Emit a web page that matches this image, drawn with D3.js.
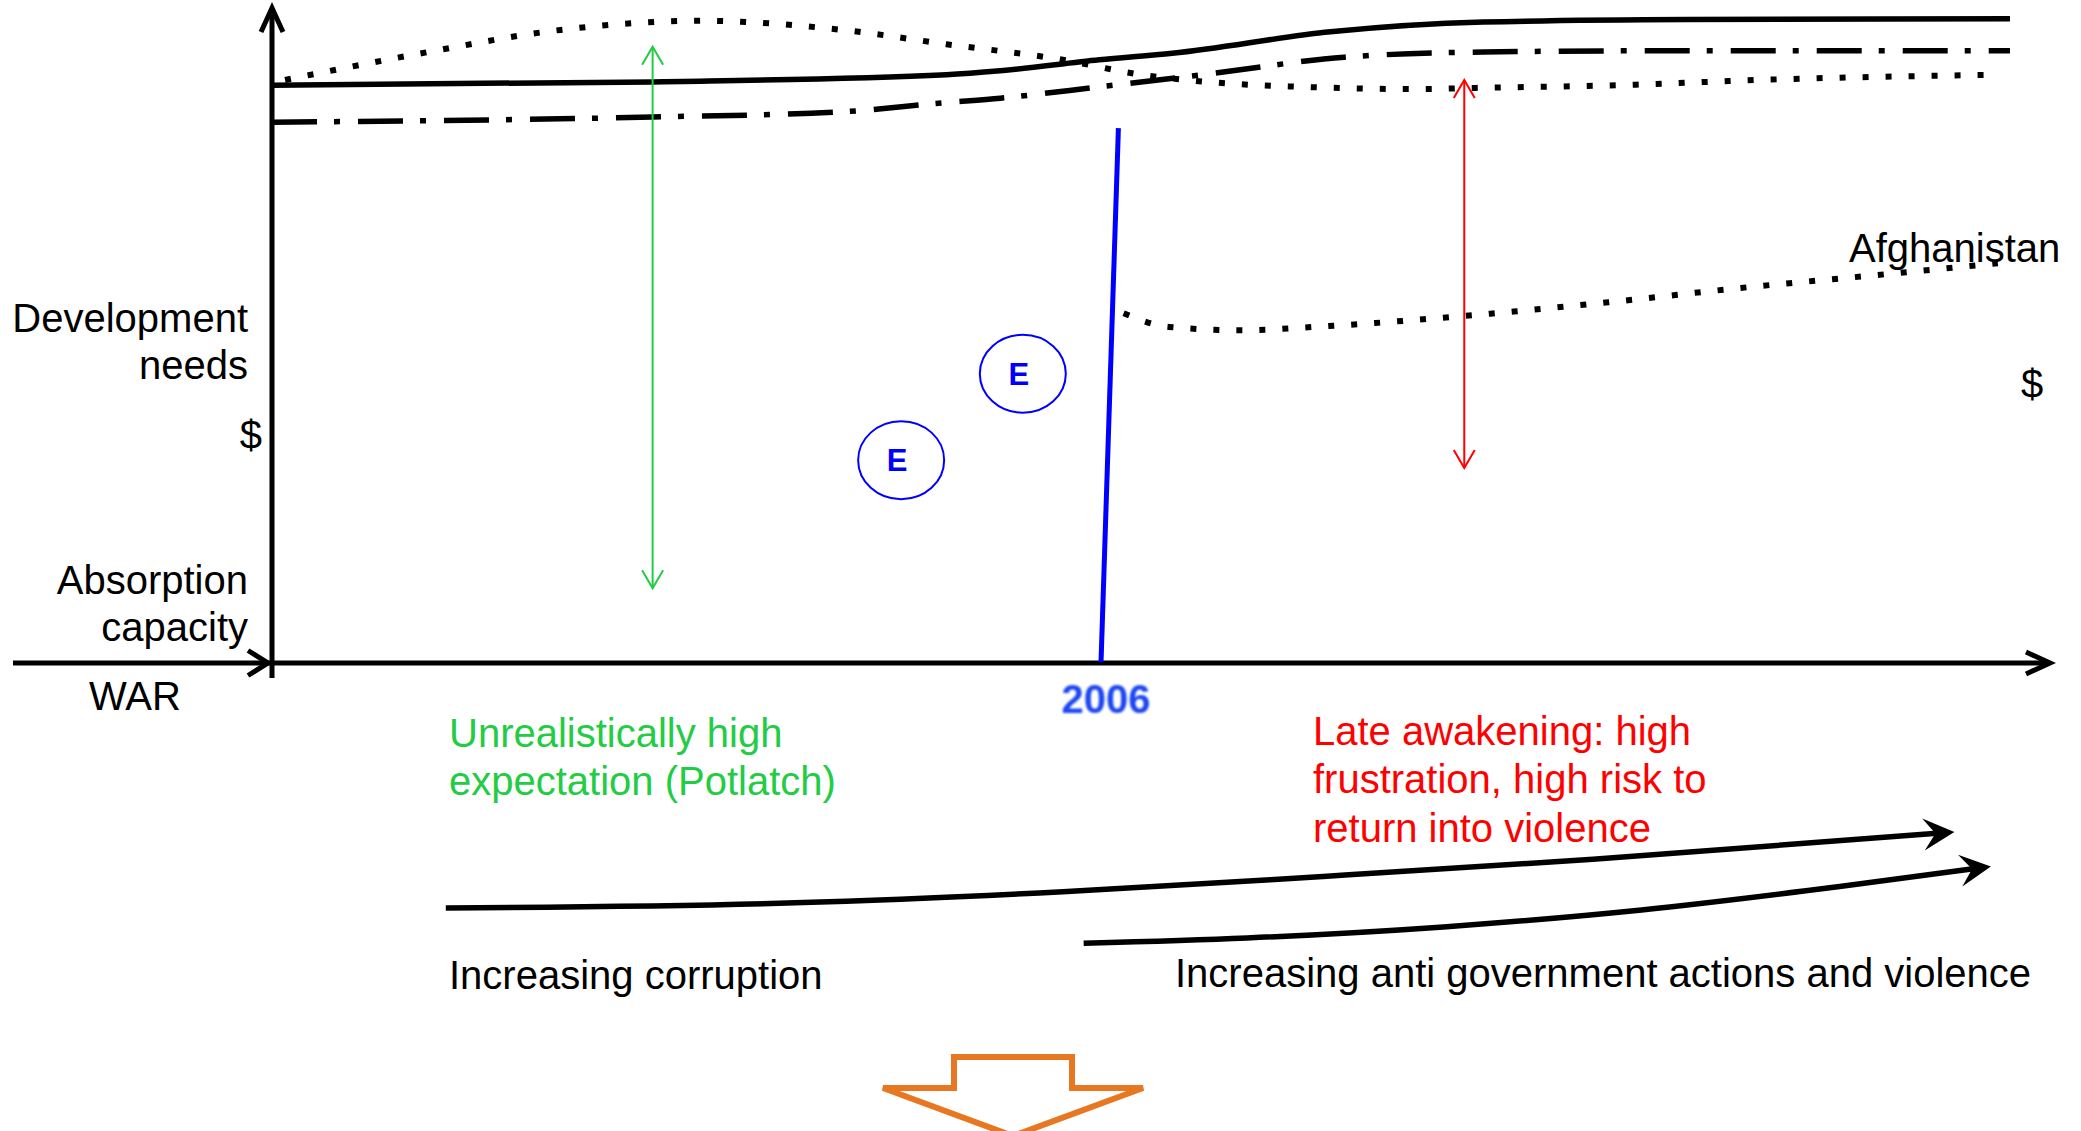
<!DOCTYPE html>
<html>
<head>
<meta charset="utf-8">
<script src="https://cdn.jsdelivr.net/npm/d3@7"></script>
<style>
  body { margin: 0; background: #fff; }
  text { font-family: "Liberation Sans", Arial, sans-serif; }
</style>
</head>
<body>
<div id="chart"></div>
<script>
// time runs 0..100 along the x axis, money 0..100 up the y axis
var needsX = [0, 21.9, 38.8, 41.9, 47.6, 51.8, 60.9, 69.7, 81.5, 100];
var needsY = [88.9, 89.4, 90.5, 91.1, 92.8, 93.8, 97.1, 98.6, 99.0, 99.1];

var capacityX = [0, 21.9, 32.8, 38.7, 41.9, 47.5, 53.8, 61.7, 69.7, 81.5, 100];
var capacityY = [83.2, 84.0, 84.8, 86.2, 86.9, 88.6, 90.6, 93.2, 94.0, 94.2, 94.2];

var expectX = [0.75, 8.6, 16.6, 24.7, 32.8, 38.8, 45.5, 49.8, 53.8, 59.7, 65.7, 69.7, 77.6, 85.5, 99.0];
var expectY = [89.7, 93.8, 97.4, 98.8, 97.4, 95.2, 92.8, 90.6, 89.4, 88.6, 88.3, 88.5, 88.9, 89.7, 90.5];

var afghanX = [49.0, 51.6, 55.8, 59.9, 68.6, 76.9, 84.5, 92.4, 99.3];
var afghanY = [53.8, 51.7, 51.2, 51.7, 53.4, 55.5, 57.7, 59.7, 61.5];

var corruptionX = [10.0, 30.1, 45.5, 60.7, 76.0, 96.8];
var corruptionY = [-37.7, -36.9, -35.2, -32.8, -30.2, -26.0];

var violenceX = [46.7, 56.1, 67.4, 78.8, 90.2, 98.9];
var violenceY = [-43.1, -42.3, -40.6, -38.0, -34.4, -31.3];

var yearX = [47.7, 48.7];
var yearY = [0.15, 82.3];

var gapGreen = {x: 21.9, y: [94.8, 11.5]};
var gapRed = {x: 68.6, y: [89.7, 30]};

var eX = [36.2, 43.2];
var eY = [31.2, 44.5];

var width = 2081, height = 1131;

var x = d3.scaleLinear().domain([0, 100]).range([272, 2010]);
var y = d3.scaleLinear().domain([0, 100]).range([663, 13]);

var svg = d3.select("#chart").append("svg")
  .attr("width", width)
  .attr("height", height);

function zip(xs, ys) {
  return xs.map(function(d, i) { return [d, ys[i]]; });
}

var line = d3.line()
  .x(function(d) { return x(d[0]); })
  .y(function(d) { return y(d[1]); })
  .curve(d3.curveMonotoneX);

// open V arrow head, tip at (tx,ty) pointing along angle a
function vHead(tx, ty, a, len, half, color, w) {
  var bx = tx - len * Math.cos(a), by = ty - len * Math.sin(a);
  var px = -Math.sin(a) * half, py = Math.cos(a) * half;
  svg.append("path")
    .attr("d", "M" + (bx + px) + "," + (by + py) + "L" + tx + "," + ty + "L" + (bx - px) + "," + (by - py))
    .attr("fill", "none")
    .attr("stroke", color)
    .attr("stroke-width", w)
    .attr("stroke-linejoin", "miter");
}

// filled stealth head
function stealthHead(tx, ty, a, len, half, notch) {
  var c = Math.cos(a), s = Math.sin(a);
  function pt(u, v) { return (tx + u * c - v * s) + "," + (ty + u * s + v * c); }
  svg.append("path")
    .attr("d", "M" + pt(0, 0) + "L" + pt(-len, -half) + "L" + pt(-len + notch, 0) + "L" + pt(-len, half) + "Z")
    .attr("fill", "#000");
}

// axes
svg.append("line")
  .attr("x1", 272).attr("x2", 272)
  .attr("y1", 678).attr("y2", 8)
  .attr("stroke", "#000").attr("stroke-width", 5);
vHead(272, 8, -Math.PI / 2, 24, 11, "#000", 5);

svg.append("line")
  .attr("x1", 13).attr("x2", 2050)
  .attr("y1", y(0)).attr("y2", y(0))
  .attr("stroke", "#000").attr("stroke-width", 5);
vHead(2050, y(0), 0, 24, 11, "#000", 5);
vHead(268, y(0), 0, 20, 12.5, "#000", 5);

// curves
svg.append("path")
  .attr("d", line(zip(needsX, needsY)))
  .attr("fill", "none").attr("stroke", "#000").attr("stroke-width", 5.5);

svg.append("path")
  .attr("d", line(zip(capacityX, capacityY)))
  .attr("fill", "none").attr("stroke", "#000").attr("stroke-width", 5.5)
  .attr("stroke-dasharray", "45,17,6,18");

svg.append("path")
  .attr("d", line(zip(expectX, expectY)))
  .attr("fill", "none").attr("stroke", "#000").attr("stroke-width", 6)
  .attr("stroke-dasharray", "6,17");

svg.append("path")
  .attr("d", line(zip(afghanX, afghanY)))
  .attr("fill", "none").attr("stroke", "#000").attr("stroke-width", 6)
  .attr("stroke-dasharray", "6,17");

// 2006 line
svg.append("line")
  .attr("x1", x(yearX[0])).attr("y1", y(yearY[0]))
  .attr("x2", x(yearX[1])).attr("y2", y(yearY[1]))
  .attr("stroke", "#0000ff").attr("stroke-width", 5);

// gap arrows
function gapArrow(g, color) {
  var gx = x(g.x), y1 = y(g.y[0]), y2 = y(g.y[1]);
  svg.append("line")
    .attr("x1", gx).attr("x2", gx).attr("y1", y1).attr("y2", y2)
    .attr("stroke", color).attr("stroke-width", 2);
  vHead(gx, y1, -Math.PI / 2, 18, 10.5, color, 2);
  vHead(gx, y2, Math.PI / 2, 18, 10.5, color, 2);
}
gapArrow(gapGreen, "#22cc44");
gapArrow(gapRed, "#ff0000");

// E circles
eX.forEach(function(d, i) {
  svg.append("ellipse")
    .attr("cx", x(d)).attr("cy", y(eY[i]))
    .attr("rx", 43).attr("ry", 39)
    .attr("fill", "none").attr("stroke", "#0000ff").attr("stroke-width", 2);
  svg.append("text")
    .attr("x", x(d) - 4).attr("y", y(eY[i]) + 11)
    .attr("text-anchor", "middle")
    .attr("font-size", 31).attr("font-weight", "bold")
    .attr("fill", "#0000ff")
    .text("E");
});

// bottom trend arrows
[[corruptionX, corruptionY], [violenceX, violenceY]].forEach(function(s) {
  var pts = zip(s[0], s[1]);
  var n = pts.length;
  var path = svg.append("path")
    .attr("d", line(pts))
    .attr("fill", "none").attr("stroke", "#000").attr("stroke-width", 5.5);
  var L = path.node().getTotalLength();
  path.attr("stroke-dasharray", (L - 14) + "," + 100);
  var tip = path.node().getPointAtLength(L);
  var back = path.node().getPointAtLength(L - 25);
  var a = Math.atan2(tip.y - back.y, tip.x - back.x);
  stealthHead(tip.x, tip.y, a, 31, 16, 12);
});

// texts
function label(t, lx, ly, anchor, color, size, weight) {
  return svg.append("text")
    .attr("x", lx).attr("y", ly)
    .attr("text-anchor", anchor)
    .attr("font-size", size || 40)
    .attr("font-weight", weight || "normal")
    .attr("fill", color || "#000")
    .text(t);
}

label("Development", 248, 332, "end");
label("needs", 248, 379, "end");
label("$", 262, 449, "end");
label("Absorption", 248, 594, "end");
label("capacity", 248, 641, "end");
label("WAR", 135, 710, "middle");
label("Afghanistan", 1849, 262, "start");
label("$", 2032, 398, "middle");

var blur = svg.append("defs").append("filter").attr("id", "soft");
blur.append("feGaussianBlur").attr("stdDeviation", 0.9);
label("2006", x(yearX[0]) + 5, 713, "middle", "#1f47f2", 40, "bold")
  .attr("filter", "url(#soft)");

label("Unrealistically high", 449, 747, "start", "#22cc44");
label("expectation (Potlatch)", 449, 795, "start", "#22cc44");

label("Late awakening: high", 1313, 745, "start", "#ff0000");
label("frustration, high risk to", 1313, 793, "start", "#ff0000");
label("return into violence", 1313, 842, "start", "#ff0000");

label("Increasing corruption", 449, 989, "start");
label("Increasing anti government actions and violence", 1175, 987, "start");

// orange down arrow at the bottom
var cx = 1013;
svg.append("path")
  .attr("d", "M" + (cx - 59) + ",1057 L" + (cx + 59) + ",1057 L" + (cx + 59) + ",1088 L" + (cx + 130) + ",1088 L" + cx + ",1136 L" + (cx - 130) + ",1088 L" + (cx - 59) + ",1088 Z")
  .attr("fill", "#fff")
  .attr("stroke", "#e87722")
  .attr("stroke-width", 6);
</script>
</body>
</html>
